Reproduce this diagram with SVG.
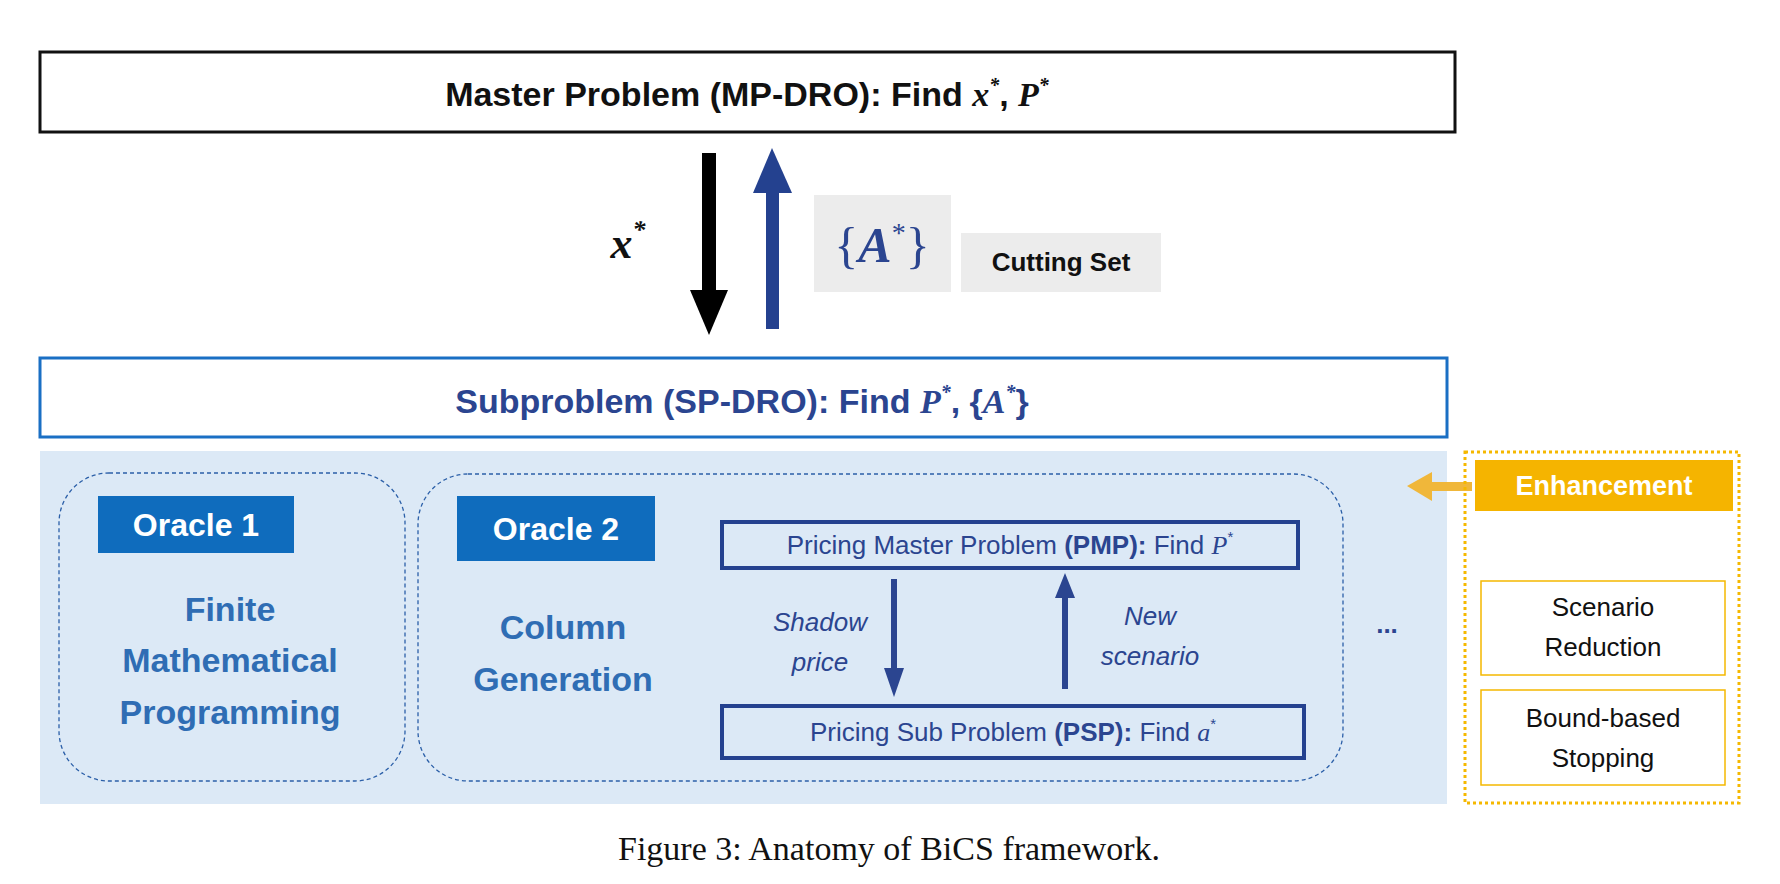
<svg xmlns="http://www.w3.org/2000/svg" width="1780" height="884" viewBox="0 0 1780 884">
<style>
.s{font-family:"Liberation Sans",Arial,sans-serif}
.b{font-weight:bold}
.m{font-family:"Liberation Serif","Times New Roman",serif;font-style:italic;font-weight:bold}
.nv{fill:#2b4590}
.dash{fill:none;stroke:#2b5fa8;stroke-width:1.3;stroke-dasharray:4 3}
.wb{fill:#fff;stroke:#f5b800;stroke-width:1.5}
</style>
<rect width="1780" height="884" fill="#fff"/>
<rect x="40" y="451" width="1407" height="353" fill="#dce9f6"/>
<g id="master">
<rect x="40" y="52" width="1415" height="80" fill="#fff" stroke="#111" stroke-width="3"/>
<text x="747" y="106" text-anchor="middle" font-size="34" class="s b" fill="#111">Master Problem (MP-DRO): Find <tspan class="m">x</tspan><tspan class="m" font-size="20" dy="-14">*</tspan><tspan dy="14">, </tspan><tspan class="m">P</tspan><tspan class="m" font-size="20" dy="-14">*</tspan></text>
</g>
<g id="connectors">
<rect x="702" y="153" width="14" height="140" fill="#000"/>
<polygon points="690,290 728,290 709,335" fill="#000"/>
<rect x="766" y="190" width="13" height="139" fill="#24418f"/>
<polygon points="753,193 792,193 772,148" fill="#24418f"/>
<rect x="891" y="579" width="6" height="92" fill="#2b4590"/>
<polygon points="884,668 904,668 894,697" fill="#2b4590"/>
<rect x="1062" y="596" width="6" height="93" fill="#2b4590"/>
<polygon points="1055,598 1075,598 1065,573" fill="#2b4590"/>
<rect x="1430" y="482" width="42" height="9" fill="#f0b73a"/>
<polygon points="1432,472 1432,501 1407,486" fill="#f0b73a"/>
</g>
<g id="xlabel"><text x="628" y="258" text-anchor="middle" font-size="44" class="m" fill="#111">x<tspan font-size="26" dy="-20">*</tspan></text></g>
<g id="cutset">
<rect x="814" y="195" width="137" height="97" fill="#ececec"/>
<text x="882" y="262" text-anchor="middle" font-size="50" font-family="Liberation Serif,serif" class="nv">{<tspan font-style="italic" font-weight="bold">A</tspan><tspan font-size="28" dy="-20">*</tspan><tspan dy="20">}</tspan></text>
<rect x="961" y="233" width="200" height="59" fill="#ececec"/>
<text x="1061" y="271" text-anchor="middle" font-size="26" class="s b" fill="#111">Cutting Set</text>
</g>
<g id="sub">
<rect x="40" y="358" width="1407" height="79" fill="#fff" stroke="#1a6fc4" stroke-width="3"/>
<text x="742" y="413" text-anchor="middle" font-size="34" class="s b nv">Subproblem (SP-DRO): Find <tspan class="m">P</tspan><tspan class="m" font-size="20" dy="-14">*</tspan><tspan dy="14">, {</tspan><tspan class="m">A</tspan><tspan class="m" font-size="20" dy="-14">*</tspan><tspan dy="14">}</tspan></text>
</g>
<g id="oracle1">
<rect x="59" y="473" width="346" height="308" rx="50" class="dash"/>
<rect x="98" y="496" width="196" height="57" fill="#0f6cbd"/>
<text x="196" y="536" text-anchor="middle" font-size="32" class="s b" fill="#fff">Oracle 1</text>
<text text-anchor="middle" font-size="34" class="s b" fill="#2f6db4"><tspan x="230" y="621">Finite</tspan><tspan x="230" y="672">Mathematical</tspan><tspan x="230" y="724">Programming</tspan></text>
</g>
<g id="oracle2">
<rect x="418" y="474" width="925" height="307" rx="50" class="dash"/>
<rect x="457" y="496" width="198" height="65" fill="#0f6cbd"/>
<text x="556" y="540" text-anchor="middle" font-size="32" class="s b" fill="#fff">Oracle 2</text>
<text text-anchor="middle" font-size="34" class="s b" fill="#2f6db4"><tspan x="563" y="639">Column</tspan><tspan x="563" y="691">Generation</tspan></text>
</g>
<g id="pmp">
<rect x="722" y="522" width="576" height="46" fill="none" stroke="#24418f" stroke-width="4"/>
<text x="1010" y="554" text-anchor="middle" font-size="26" class="s nv">Pricing Master Problem <tspan class="b">(PMP):</tspan> Find <tspan font-family="Liberation Serif,serif" font-style="italic">P</tspan><tspan font-size="15" dy="-12">*</tspan></text>
</g>
<g id="psp">
<rect x="722" y="706" width="582" height="52" fill="none" stroke="#24418f" stroke-width="4"/>
<text x="1013" y="741" text-anchor="middle" font-size="26" class="s nv">Pricing Sub Problem <tspan class="b">(PSP):</tspan> Find <tspan font-family="Liberation Serif,serif" font-style="italic">a</tspan><tspan font-size="15" dy="-12">*</tspan></text>
</g>
<g id="labels" font-size="26" class="s nv" font-style="italic" text-anchor="middle">
<text x="820" y="631">Shadow</text><text x="820" y="671">price</text>
<text x="1150" y="625">New</text><text x="1150" y="665">scenario</text>
<text x="1387" y="633" font-style="normal" font-weight="bold">...</text>
</g>
<g id="enh">
<rect x="1465" y="452" width="274" height="351" fill="none" stroke="#f5b800" stroke-width="3" stroke-dasharray="3 3"/>
<rect x="1475" y="460" width="258" height="51" fill="#f5b400"/>
<text x="1604" y="495" text-anchor="middle" font-size="27" class="s b" fill="#fff">Enhancement</text>
<rect x="1481" y="581" width="244" height="94" class="wb"/>
<text text-anchor="middle" font-size="26" class="s" fill="#111"><tspan x="1603" y="616">Scenario</tspan><tspan x="1603" y="656">Reduction</tspan></text>
<rect x="1481" y="690" width="244" height="95" class="wb"/>
<text text-anchor="middle" font-size="26" class="s" fill="#111"><tspan x="1603" y="727">Bound-based</tspan><tspan x="1603" y="767">Stopping</tspan></text>
</g>
<text x="889" y="860" text-anchor="middle" font-size="34" font-family="Liberation Serif,'Times New Roman',serif" fill="#111">Figure 3: Anatomy of BiCS framework.</text>
</svg>
